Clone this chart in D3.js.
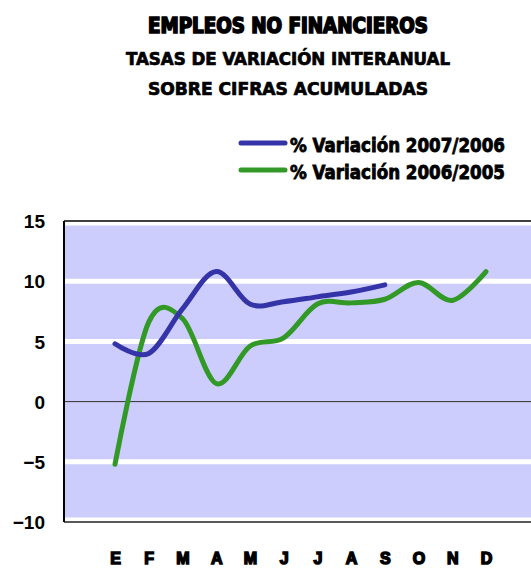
<!DOCTYPE html>
<html>
<head>
<meta charset="utf-8">
<style>
  body { margin: 0; background: #fff; }
  .title { font-family: "Liberation Sans Narrow", "DejaVu Sans Condensed", "Liberation Sans", sans-serif; font-weight: bold; fill: #000; }
</style>
</head>
<body>
<script src="https://cdn.jsdelivr.net/npm/d3@7"></script>
<script>
// data
var months = ["E", "F", "M", "A", "M", "J", "J", "A", "S", "O", "N", "D"];
var var2007 = [4.8, 4.0, 7.7, 10.8, 8.1, 8.3, 8.7, 9.1, 9.7];
var var2006 = [-5.2, 6.6, 6.9, 1.5, 4.6, 5.3, 8.1, 8.2, 8.5, 9.9, 8.4, 10.8];
var yTicks = [-10, -5, 0, 5, 10, 15];
var seriesNames = ["% Variación 2007/2006", "% Variación 2006/2005"];
var colors = ["#3434a8", "#339926"];

var width = 531, height = 568;
var plot = {left: 64, right: 540, top: 221, bottom: 522};

var svg = d3.select("body").append("svg")
  .attr("width", width)
  .attr("height", height);

// titles
var titles = [
  {t: "EMPLEOS NO FINANCIEROS", y: 33, size: 21, len: 280},
  {t: "TASAS DE VARIACIÓN INTERANUAL", y: 65, size: 18, len: 324},
  {t: "SOBRE CIFRAS ACUMULADAS", y: 95, size: 18, len: 280}
];
svg.selectAll(".title")
  .data(titles)
  .enter().append("text")
  .attr("class", "title")
  .attr("x", function(d) { return 288 - d.len / 2; })
  .attr("y", function(d) { return d.y; })
  .attr("font-size", function(d) { return d.size; })
  .attr("textLength", function(d) { return d.len; })
  .attr("lengthAdjust", "spacingAndGlyphs")
  .style("stroke", "#000")
  .style("stroke-width", function(d, i) { return i == 0 ? 1.6 : 0.7; })
  .text(function(d) { return d.t; });

// scales
var x = d3.scalePoint().domain(d3.range(months.length)).range([115, 486]);
var y = d3.scaleLinear().domain([-10, 15]).range([plot.bottom, plot.top]);

// plot background
svg.append("rect")
  .attr("x", plot.left).attr("y", plot.top)
  .attr("width", plot.right - plot.left).attr("height", plot.bottom - plot.top)
  .attr("fill", "#ccccfd");

// grid lines
svg.selectAll(".grid")
  .data(yTicks.filter(function(d) { return d != 0; }))
  .enter().append("line")
  .attr("x1", plot.left).attr("x2", plot.right)
  .attr("y1", function(d) { return y(d) + (d == 15 ? 2 : 0) + (d == -10 ? -2 : 0); })
  .attr("y2", function(d) { return y(d) + (d == 15 ? 2 : 0) + (d == -10 ? -2 : 0); })
  .attr("stroke", "#fff")
  .attr("stroke-width", 5);

// zero line
svg.append("line")
  .attr("x1", plot.left).attr("x2", plot.right)
  .attr("y1", y(0)).attr("y2", y(0))
  .attr("stroke", "#333").attr("stroke-width", 1);

// frame
svg.append("line").attr("x1", plot.left).attr("x2", plot.right)
  .attr("y1", plot.top).attr("y2", plot.top).attr("stroke", "#000").attr("stroke-width", 1.5);
svg.append("line").attr("x1", plot.left).attr("x2", plot.right)
  .attr("y1", plot.bottom).attr("y2", plot.bottom).attr("stroke", "#222").attr("stroke-width", 1.5);
svg.append("line").attr("x1", plot.left).attr("x2", plot.left)
  .attr("y1", plot.top).attr("y2", plot.bottom).attr("stroke", "#000").attr("stroke-width", 2);

// y axis labels
var yAxis = d3.axisLeft(y).tickValues(yTicks).tickSize(0).tickPadding(0);
var gy = svg.append("g")
  .attr("transform", "translate(45,0)")
  .call(yAxis);
gy.select(".domain").remove();
gy.selectAll("text")
  .attr("font-family", "Liberation Sans, Arial, sans-serif")
  .attr("font-weight", "bold")
  .attr("font-size", 19)
  .attr("fill", "#000")
  .attr("dy", "0.35em");

// x axis labels
var xAxis = d3.axisBottom(x).tickSize(0).tickPadding(0)
  .tickFormat(function(i) { return months[i]; });
var gx = svg.append("g")
  .attr("transform", "translate(0,553)")
  .call(xAxis);
gx.select(".domain").remove();
gx.selectAll("text")
  .attr("font-family", "Liberation Sans, Arial, sans-serif")
  .attr("font-weight", "bold")
  .attr("font-size", 16)
  .attr("fill", "#000")
  .style("stroke", "#000")
  .style("stroke-width", 1.5);

// lines
var line = d3.line()
  .x(function(d, i) { return x(i); })
  .y(function(d) { return y(d); })
  .curve(d3.curveCardinal.tension(0));

svg.selectAll(".series")
  .data([var2006, var2007])
  .enter().append("path")
  .attr("d", line)
  .attr("fill", "none")
  .attr("stroke", function(d, i) { return i == 0 ? colors[1] : colors[0]; })
  .attr("stroke-width", 5)
  .attr("stroke-linecap", "round");

// legend
var legend = svg.selectAll(".legend")
  .data(seriesNames)
  .enter().append("g")
  .attr("transform", function(d, i) { return "translate(0," + (143 + i * 27) + ")"; });
legend.append("line")
  .attr("x1", 241).attr("x2", 285)
  .attr("stroke", function(d, i) { return colors[i]; })
  .attr("stroke-width", 5)
  .attr("stroke-linecap", "round");
legend.append("text")
  .attr("class", "title")
  .attr("x", 290)
  .attr("y", 9)
  .attr("font-size", 19)
  .attr("textLength", 215)
  .attr("lengthAdjust", "spacingAndGlyphs")
  .style("stroke", "#000")
  .style("stroke-width", 0.8)
  .text(function(d) { return d; });
</script>
</body>
</html>
